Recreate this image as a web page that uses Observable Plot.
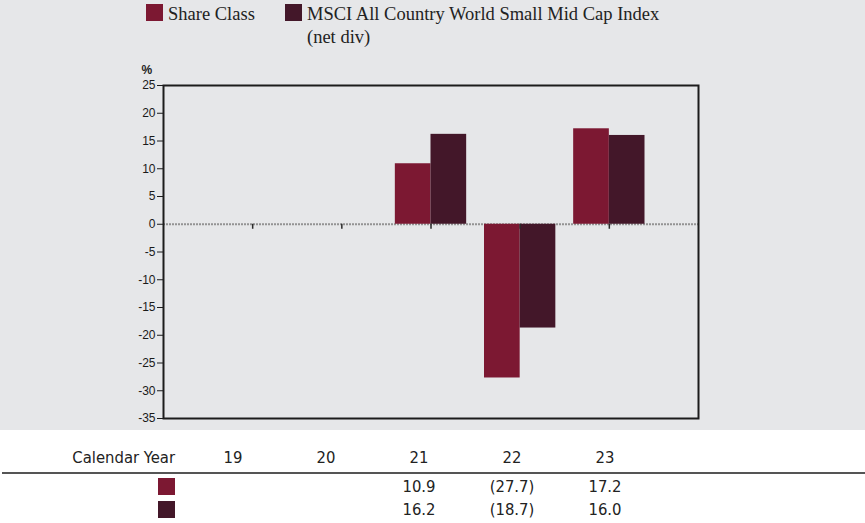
<!DOCTYPE html>
<html>
<head>
<meta charset="utf-8">
<script src="https://cdn.jsdelivr.net/npm/d3@7"></script>
<script src="https://cdn.jsdelivr.net/npm/@observablehq/plot@0.6"></script>
<style>
  html, body { margin: 0; padding: 0; background: #ffffff; }
  #page { position: relative; width: 865px; height: 523px; overflow: hidden; }
  #top { position: absolute; left: 0; top: 0; width: 865px; height: 430px; background: #e6e7e9; }
  #legend { position: absolute; left: 0; top: 0; width: 865px; height: 52px;
            font-family: "Liberation Serif", "DejaVu Serif", serif; font-size: 18.5px; color: #222; }
  .lg-sw { position: absolute; width: 17px; height: 17px; top: 4px; }
  .lg-tx { position: absolute; top: 3px; line-height: 23px; white-space: nowrap; }
  #chart { position: absolute; left: 0; top: 52px; }
  #table { position: absolute; left: 0; top: 430px; width: 865px; height: 93px;
           font-family: "Liberation Sans Narrow", "DejaVu Sans Condensed", "Liberation Sans", sans-serif;
           font-stretch: condensed; font-size: 16.5px; color: #222; }
  .cell { position: absolute; width: 93px; text-align: center; line-height: 20px; white-space: nowrap; }
  .rule { position: absolute; left: 2px; right: 0; top: 42px; height: 2px; background: #555; }
  .tsw { position: absolute; left: 158px; width: 17px; height: 17px; }
</style>
</head>
<body>
<div id="page">
  <div id="top">
    <div id="legend"></div>
    <div id="chart"></div>
  </div>
  <div id="table"></div>
</div>
<script>
// ---- data ----
const years = [19, 20, 21, 22, 23];
const seriesNames = ["Share Class", "MSCI All Country World Small Mid Cap Index (net div)"];
const legendLines = [["Share Class"], ["MSCI All Country World Small Mid Cap Index", "(net div)"]];
const shareClass = [null, null, 10.9, -27.7, 17.2];
const benchmark = [null, null, 16.2, -18.7, 16.0];
const shareClassLabels = ["", "", "10.9", "(27.7)", "17.2"];
const benchmarkLabels = ["", "", "16.2", "(18.7)", "16.0"];
const yTicks = [25, 20, 15, 10, 5, 0, -5, -10, -15, -20, -25, -30, -35];
const colors = ["#7c1832", "#431729"];
const tableHeader = "Calendar Year";

// ---- rows for plot ----
const rows = [];
years.forEach((yr, i) => {
  if (shareClass[i] != null) rows.push({year: yr, series: seriesNames[0], idx: 0, value: shareClass[i]});
  if (benchmark[i] != null) rows.push({year: yr, series: seriesNames[1], idx: 1, value: benchmark[i]});
});
const barW = 0.4;

const chart = Plot.plot({
  width: 865,
  height: 378,
  marginLeft: 163,
  marginRight: 167,
  marginTop: 33,
  marginBottom: 12,
  style: {background: "transparent", fontFamily: "'Liberation Sans', Arial, sans-serif", fontSize: "12px", color: "#1a1a1a"},
  x: {domain: [18, 24], axis: null},
  y: {domain: [-35, 25], axis: null},
  color: {domain: seriesNames, range: colors},
  marks: [
    Plot.ruleY([0], {stroke: "#939393", strokeWidth: 2, strokeDasharray: "2,1"}),
    Plot.rect(rows, {
      x1: d => d.idx === 0 ? d.year - barW : d.year,
      x2: d => d.idx === 0 ? d.year : d.year + barW,
      y1: 0, y2: "value", fill: "series"
    }),
    Plot.ruleX(years, {x: d => d, y1: 0, y2: 0, insetBottom: -5, stroke: "#2a2a2a", strokeWidth: 1.5}),
    Plot.frame({stroke: "#1c1c1c", strokeWidth: 2}),
    Plot.axisY({ticks: yTicks, tickSize: 6, tickPadding: 2, tickFormat: d => String(d), label: null, stroke: "#1c1c1c"}),
    Plot.text(["%"], {frameAnchor: "top-left", dx: -22, dy: -20, textAnchor: "start", fontWeight: "bold", fontSize: 12, fill: "#222"})
  ]
});
document.getElementById("chart").appendChild(chart);

// ---- legend ----
const legend = document.getElementById("legend");
const legendX = [146, 285];
legendLines.forEach((lines, i) => {
  const sw = document.createElement("div");
  sw.className = "lg-sw";
  sw.style.left = legendX[i] + "px";
  sw.style.background = colors[i];
  legend.appendChild(sw);
  const tx = document.createElement("div");
  tx.className = "lg-tx";
  tx.style.left = (legendX[i] + 22) + "px";
  tx.innerHTML = lines.join("<br>");
  legend.appendChild(tx);
});

// ---- table ----
const table = document.getElementById("table");
const colCenter = i => 233 + i * 93;
function addCell(text, cx, top) {
  const c = document.createElement("div");
  c.className = "cell";
  c.textContent = text;
  c.style.left = (cx - 46.5) + "px";
  c.style.top = top + "px";
  table.appendChild(c);
}
const hdr = document.createElement("div");
hdr.className = "cell";
hdr.textContent = tableHeader;
hdr.style.left = "0px"; hdr.style.width = "175px"; hdr.style.textAlign = "right"; hdr.style.top = "18px";
table.appendChild(hdr);
years.forEach((yr, i) => addCell(String(yr), colCenter(i), 18));
const rule = document.createElement("div"); rule.className = "rule"; table.appendChild(rule);
[shareClassLabels, benchmarkLabels].forEach((labels, r) => {
  const top = 47 + r * 23;
  const sw = document.createElement("div");
  sw.className = "tsw";
  sw.style.top = (top + 1) + "px";
  sw.style.background = colors[r];
  table.appendChild(sw);
  labels.forEach((t, i) => { if (t) addCell(t, colCenter(i), top); });
});
</script>
</body>
</html>
